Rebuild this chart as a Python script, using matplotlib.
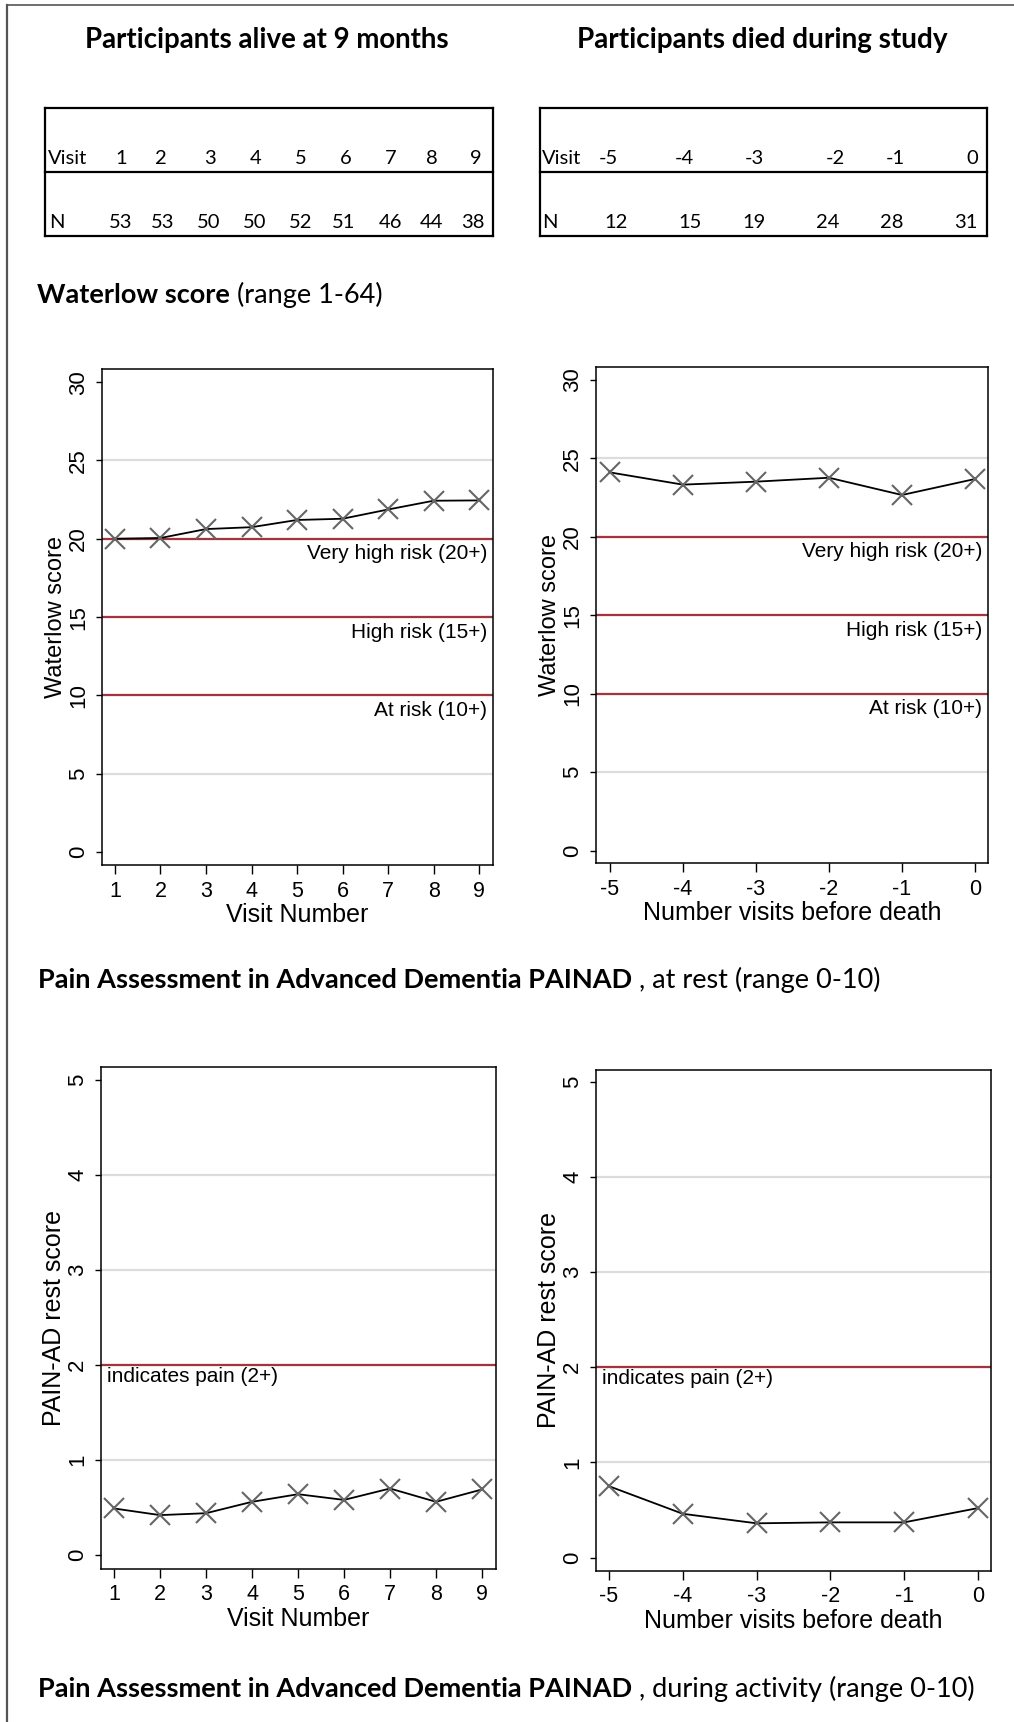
import matplotlib
matplotlib.use("Agg")
import matplotlib.pyplot as plt
from matplotlib.lines import Line2D

# ---------------- data ----------------
visits_alive = [1, 2, 3, 4, 5, 6, 7, 8, 9]
n_alive = [53, 53, 50, 50, 52, 51, 46, 44, 38]
visits_died = [-5, -4, -3, -2, -1, 0]
n_died = [12, 15, 19, 24, 28, 31]

waterlow_alive = [20.0, 20.05, 20.62, 20.74, 21.2, 21.28, 21.87, 22.43, 22.45]
waterlow_died = [24.1, 23.32, 23.51, 23.76, 22.66, 23.68]
painad_alive = [0.49, 0.42, 0.44, 0.56, 0.64, 0.58, 0.70, 0.56, 0.69]
painad_died = [0.75, 0.46, 0.36, 0.37, 0.37, 0.52]

waterlow_levels = [20, 15, 10]
waterlow_level_labels = ["Very high risk (20+)", "High risk (15+)", "At risk (10+)"]
painad_levels = [2]
painad_level_labels = ["indicates pain (2+)"]

waterlow_yticks = [0, 5, 10, 15, 20, 25, 30]
painad_yticks = [0, 1, 2, 3, 4, 5]

# ---------------- layout ----------------
W, H = 1014, 1722
plt.rcParams['font.family'] = ['Liberation Sans', 'DejaVu Sans']
HEAD = ['Lato', 'DejaVu Sans']
RED = '#a0343f'
GRID = '#dcdcdc'
MARK = '#666666'

fig = plt.figure(figsize=(W / 100, H / 100), dpi=100)
fig.patch.set_facecolor('white')
renderer = fig.canvas.get_renderer()


def fxy(x, y):
    return x / W, 1 - y / H


def fig_line(x0, y0, x1, y1, lw=1.5, color='black'):
    a = fxy(x0, y0)
    b = fxy(x1, y1)
    fig.add_artist(Line2D([a[0], b[0]], [a[1], b[1]], transform=fig.transFigure,
                          lw=lw, color=color, solid_capstyle='projecting'))


def fit_text(x, y, s, width, ha='left', va='center', weight='normal', size=14):
    t = fig.text(*fxy(x, y), s, ha=ha, va=va, fontsize=size, fontweight=weight, family=HEAD)
    bb = t.get_window_extent(renderer)
    t.set_fontsize(size * width / bb.width)
    return t


def heading(x, y, bold, regular, bold_width):
    t = fit_text(x, y, bold, bold_width, weight='bold')
    bb = t.get_window_extent(renderer)
    fig.text(bb.x1 / W, 1 - y / H, regular, ha='left', va='center',
             fontsize=t.get_fontsize(), family=HEAD)


# outer frame
fig_line(7, 5, 7, H + 5, lw=1.6, color='#555555')
fig_line(7, 5, W + 5, 5, lw=1.2, color='#555555')

# titles
fit_text(267, 40, "Participants alive at 9 months", 367, ha='center', weight='bold')
fit_text(762, 40, "Participants died during study", 373, ha='center', weight='bold')

# tables
alive_head_x = [121, 161, 210, 256, 301, 346, 391, 432, 476]
alive_n_x = [121, 163, 209, 255, 301, 344, 391, 432, 473]
died_head_x = [608, 684, 754, 835, 895, 972]
died_n_x = [616, 690, 754, 828, 892, 966]


def table(x0, x1, head_x, n_x, heads, ns, visit_x, n_label_x):
    top, mid, bot = 108, 172, 236
    for yy in (top, mid, bot):
        fig_line(x0, yy, x1, yy, lw=1.6)
    fig_line(x0, top, x0, bot, lw=1.6)
    fig_line(x1, top, x1, bot, lw=1.6)
    fig.text(*fxy(visit_x, 158), "Visit", ha='left', va='center', fontsize=14.5, family=HEAD)
    fig.text(*fxy(n_label_x, 222), "N", ha='left', va='center', fontsize=14.5, family=HEAD)
    for xx, v in zip(head_x, heads):
        fig.text(*fxy(xx, 158), str(v), ha='center', va='center', fontsize=14.5, family=HEAD)
    for xx, v in zip(n_x, ns):
        fig.text(*fxy(xx, 222), str(v), ha='center', va='center', fontsize=14.5, family=HEAD)


table(45, 493, alive_head_x, alive_n_x, visits_alive, n_alive, 48, 49)
table(540, 987, died_head_x, died_n_x, visits_died, n_died, 542, 542)

# section headings
heading(37, 295, "Waterlow score", " (range 1-64)", 194)
heading(38, 980, "Pain Assessment in Advanced Dementia PAINAD", " , at rest (range 0-10)", 597)
heading(38, 1689, "Pain Assessment in Advanced Dementia PAINAD", " , during activity (range 0-10)", 597)


def make_axes(l, r, t, b):
    return fig.add_axes([l / W, 1 - b / H, (r - l) / W, (b - t) / H])


def style(ax, xvals, yvals, xlim, ylim, yticks, ylabel, xlabel, levels, level_labels, ylab_size,
          label_side='right'):
    ax.set_xlim(*xlim)
    ax.set_ylim(*ylim)
    for tk in yticks[1:-1]:
        ax.axhline(tk, color=GRID, lw=1.6, zorder=1)
    for lev, lab in zip(levels, level_labels):
        ax.axhline(lev, color=RED, lw=1.6, zorder=2)
        if label_side == 'right':
            ax.annotate(lab, xy=(1, lev), xycoords=('axes fraction', 'data'),
                        xytext=(-4.0, -4.0), textcoords='offset points',
                        ha='right', va='top', fontsize=15)
        else:
            ax.annotate(lab, xy=(0, lev), xycoords=('axes fraction', 'data'),
                        xytext=(4.0, -1.5), textcoords='offset points',
                        ha='left', va='top', fontsize=15)
    ax.plot(xvals, yvals, color='black', lw=1.3, zorder=3)
    ax.plot(xvals, yvals, ls='none', marker='x', ms=15, mew=1.5, color=MARK, zorder=4)
    ax.set_xticks(xvals)
    ax.set_xticklabels([str(v) for v in xvals])
    ax.set_yticks(yticks)
    ax.set_yticklabels([str(v) for v in yticks], rotation=90, va='center')
    ax.tick_params(axis='x', direction='out', length=6.3, width=1.0, labelsize=15.5, pad=5)
    ax.tick_params(axis='y', direction='out', length=4.5, width=1.0, labelsize=16, pad=4.6)
    ax.set_xlabel(xlabel, fontsize=18, labelpad=1)
    ax.set_ylabel(ylabel, fontsize=ylab_size, labelpad=1)
    for sp in ax.spines.values():
        sp.set_linewidth(1.1)
        sp.set_color('black')


axA = make_axes(102, 493, 368.7, 865)
style(axA, visits_alive, waterlow_alive, (0.715, 9.305), (-0.83, 30.86), waterlow_yticks,
      "Waterlow score", "Visit Number", waterlow_levels, waterlow_level_labels, 17)
axB = make_axes(596, 988, 366.8, 863.1)
style(axB, visits_died, waterlow_died, (-5.19, 0.178), (-0.80, 30.83), waterlow_yticks,
      "Waterlow score", "Number visits before death", waterlow_levels, waterlow_level_labels, 17)
axC = make_axes(101, 496, 1067.4, 1568.5)
style(axC, visits_alive, painad_alive, (0.717, 9.304), (-0.142, 5.133), painad_yticks,
      "PAIN-AD rest score", "Visit Number", painad_levels, painad_level_labels, 18, label_side='left')
axD = make_axes(596, 991, 1069.6, 1570.7)
style(axD, visits_died, painad_died, (-5.176, 0.176), (-0.138, 5.128), painad_yticks,
      "PAIN-AD rest score", "Number visits before death", painad_levels, painad_level_labels, 18,
      label_side='left')

fig.savefig("out.png", dpi=100, facecolor='white')
